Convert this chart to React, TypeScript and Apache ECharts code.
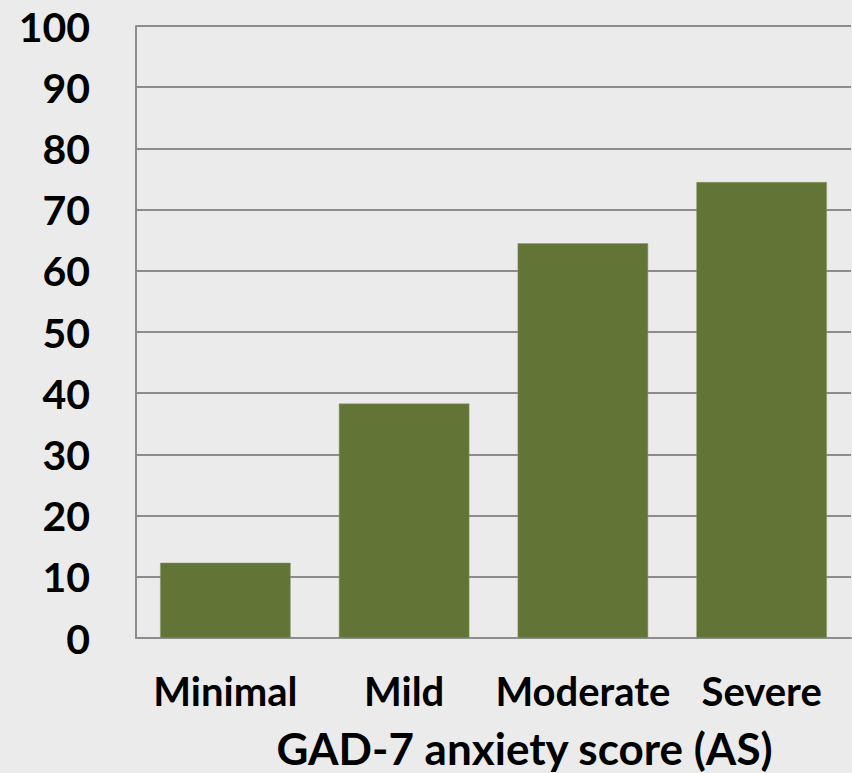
import React, { useEffect, useRef } from "react";
import * as echarts from "echarts";

const categories = ["Minimal", "Mild", "Moderate", "Severe"];
const values = [12.3, 38.3, 64.5, 74.5];
const yTicks = [0, 10, 20, 30, 40, 50, 60, 70, 80, 90, 100];
const xTitle = "GAD-7 anxiety score (AS)";

export default function App() {
  const ref = useRef<HTMLDivElement>(null);
  useEffect(() => {
    if (!ref.current) return;
    const chart = echarts.init(ref.current, null, { renderer: "svg" });
    const font = "Lato";
    chart.setOption({
      animation: false,
      backgroundColor: "#ebebeb",
      grid: { left: 136, right: 1, top: 26, bottom: 135, containLabel: false, outerBoundsMode: "none" },
      xAxis: {
        type: "category",
        data: categories,
        name: xTitle,
        nameLocation: "middle",
        nameGap: 88,
        nameTextStyle: { fontFamily: font, fontWeight: "bold", fontSize: 44, color: "#000", padding: [0, 0, 0, 62] },
        axisLine: { show: true, lineStyle: { color: "#8c8c8c", width: 2 } },
        axisTick: { show: false },
        axisLabel: { fontFamily: font, fontWeight: "bold", fontSize: 40, color: "#000", margin: 33, interval: 0 },
      },
      yAxis: {
        type: "value",
        min: yTicks[0],
        max: yTicks[yTicks.length - 1],
        interval: 10,
        axisLine: { show: true, lineStyle: { color: "#8c8c8c", width: 2 } },
        axisTick: { show: false },
        axisLabel: { fontFamily: font, fontWeight: "bold", fontSize: 41, color: "#000", margin: 46 },
        splitLine: { show: true, lineStyle: { color: "#8c8c8c", width: 2 } },
      },
      series: [
        {
          type: "bar",
          data: values,
          barCategoryGap: "27%",
          itemStyle: { color: "#637437", borderColor: "#8a9a68", borderWidth: 0.5 },
        },
      ],
    });
    return () => chart.dispose();
  }, []);
  return (
    <div
      ref={ref}
      style={{ position: "fixed", left: 0, top: 0, width: 852, height: 773 }}
    />
  );
}
